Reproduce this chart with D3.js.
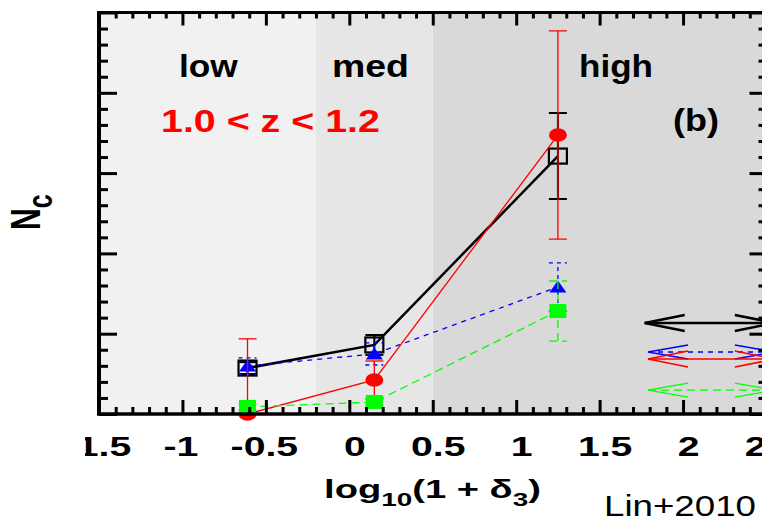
<!DOCTYPE html>
<html>
<head>
<meta charset="utf-8">
<script src="https://cdn.jsdelivr.net/npm/d3@7/dist/d3.min.js"></script>
<style>
  html, body { margin: 0; padding: 0; background: #fff; }
  svg { display: block; }
</style>
</head>
<body>
<svg id="chart" width="762" height="521"></svg>
<script>
// ---- data ----
const densityBins   = ["low", "med", "high"];
const binEdges      = [-1.5, -0.2, 0.5, 2.5];          // log10(1+δ3) limits of each bin
const groupX        = [-0.61, 0.15, 1.25];             // bin centres
const allVals       = [0.0286, 0.0430, 0.1606];        // black open squares
const allErr        = [0.0037, 0.0062, 0.0268];
const blueVals      = [0.0299, 0.0374, 0.0791];        // blue triangles
const blueErr       = [0.0050, 0.0069, 0.0150];
const redVals       = [0.0000, 0.0212, 0.1737];        // red circles
const redErr        = [0.0468, 0.0118, 0.0648];
const greenVals     = [0.0044, 0.0075, 0.0641];        // green squares
const greenErr      = [0.0019, 0.0019, 0.0187];
const fieldLevels   = [0.0567, 0.0386, 0.0342, 0.0149]; // black, blue, red, green field values
const fieldStart    = [1.77, 1.79, 1.79, 1.79];
const fieldEnd      = 2.55;
const xMajorTicks   = d3.range(-15, 26, 5).map(d => d / 10);
const xMinorTicks   = d3.range(-15, 26).map(d => d / 10).filter(d => Math.abs(d * 2 - Math.round(d * 2)) > 1e-6);
const yMajorTicks   = d3.range(0, 26, 5).map(d => d / 100);
const yMinorTicks   = d3.range(0, 26).filter(d => d % 5 !== 0).map(d => d / 100);

// ---- layout ----
const svg = d3.select("#chart");
const FONT = "'Liberation Sans', Arial, Helvetica, sans-serif";
const L = 99, R = 766.5, T = 12.5, B = 414;
const x = d3.scaleLinear().domain([-1.5, 2.5]).range([L, R]);
const y = d3.scaleLinear().domain([0, 0.25]).range([B, T]);

// stretch a text element horizontally to a given width, keeping its anchor
function fitWidth(sel, w, anchor) {
  const bb = sel.node().getBBox();
  const s = w / bb.width;
  const ax = anchor === "middle" ? bb.x + bb.width / 2 : bb.x;
  sel.attr("transform", `translate(${ax},0) scale(${s},1) translate(${-ax},0)`);
}

svg.append("defs").append("clipPath").attr("id", "plotClip")
  .append("rect").attr("x", L).attr("y", T).attr("width", R - L).attr("height", B - T);
svg.select("defs").append("clipPath").attr("id", "labelClip")
  .append("rect").attr("x", 85).attr("y", 0).attr("width", 700).attr("height", 521);

// ---- density bands ----
const bandFill = ["#f1f1f1", "#e6e6e6", "#d9d9d9"];
svg.append("g").selectAll("rect").data(densityBins).join("rect")
  .attr("x", (d, i) => x(binEdges[i]))
  .attr("width", (d, i) => x(binEdges[i + 1]) - x(binEdges[i]))
  .attr("y", T).attr("height", B - T)
  .attr("fill", (d, i) => bandFill[i]);

// ---- series ----
const series = [
  { vals: allVals,   errs: allErr,   color: "#000000", lw: 2.5, dash: null,  ew: 2.0, edash: null,  marker: "openSquare" },
  { vals: blueVals,  errs: blueErr,  color: "#0000ff", lw: 1.3, dash: "5,5", ew: 1.3, edash: "4,4", marker: "triangle" },
  { vals: redVals,   errs: redErr,   color: "#ff0000", lw: 1.3, dash: null,  ew: 1.3, edash: null,  marker: "circle" },
  { vals: greenVals, errs: greenErr, color: "#00ff00", lw: 1.3, dash: "8,5", ew: 1.3, edash: "8,5", marker: "square" }
];

const line = d3.line().x((d, i) => x(groupX[i])).y(d => y(d));
const marks = svg.append("g");

series.forEach(s => {
  const g = marks.append("g");
  g.append("path").datum(s.vals)
    .attr("d", line).attr("fill", "none")
    .attr("stroke", s.color).attr("stroke-width", s.lw)
    .attr("stroke-dasharray", s.dash);

  const eg = g.append("g").attr("clip-path", "url(#plotClip)")
    .attr("stroke", s.color).attr("stroke-width", s.ew)
    .attr("stroke-dasharray", s.edash).attr("fill", "none");
  s.vals.forEach((v, i) => {
    const cx = x(groupX[i]), lo = y(v - s.errs[i]), hi = y(v + s.errs[i]);
    eg.append("line").attr("x1", cx).attr("x2", cx).attr("y1", lo).attr("y2", hi);
    eg.append("line").attr("x1", cx - 9).attr("x2", cx + 9).attr("y1", lo).attr("y2", lo);
    eg.append("line").attr("x1", cx - 9).attr("x2", cx + 9).attr("y1", hi).attr("y2", hi);
  });

  const mg = g.append("g");
  s.vals.forEach((v, i) => {
    const cx = x(groupX[i]), cy = y(v);
    if (s.marker === "openSquare") {
      mg.append("rect").attr("x", cx - 9).attr("y", cy - 7.5).attr("width", 18).attr("height", 15)
        .attr("fill", "none").attr("stroke", s.color).attr("stroke-width", 2.2);
    } else if (s.marker === "triangle") {
      mg.append("path").attr("d", `M${cx},${cy - 6.5}L${cx + 8.5},${cy + 5.5}L${cx - 8.5},${cy + 5.5}Z`)
        .attr("fill", s.color);
    } else if (s.marker === "circle") {
      mg.append("ellipse").attr("cx", cx).attr("cy", cy).attr("rx", 9).attr("ry", 6.7).attr("fill", s.color);
    } else {
      mg.append("rect").attr("x", cx - 8.5).attr("y", cy - 7).attr("width", 17).attr("height", 14)
        .attr("fill", s.color);
    }
  });
});

// ---- field-average arrows ----
const arrowStyle = [
  { color: "#000000", lw: 2.5, dash: null,  head: 8 },
  { color: "#0000ff", lw: 1.3, dash: "5,5", head: 7 },
  { color: "#ff0000", lw: 1.6, dash: null,  head: 8 },
  { color: "#00ff00", lw: 1.3, dash: "8,5", head: 7 }
];
const arrows = svg.append("g").attr("fill", "none");
fieldLevels.forEach((lev, i) => {
  const st = arrowStyle[i];
  const x1 = x(fieldStart[i]), x2 = x(fieldEnd), yy = y(lev);
  arrows.append("line").attr("x1", x1).attr("x2", x2).attr("y1", yy).attr("y2", yy)
    .attr("stroke", st.color).attr("stroke-width", st.lw).attr("stroke-dasharray", st.dash);
  arrows.append("path").attr("d", `M${x1 + 40},${yy - st.head}L${x1},${yy}L${x1 + 40},${yy + st.head}`)
    .attr("stroke", st.color).attr("stroke-width", st.lw);
  arrows.append("path").attr("d", `M${x2 - 40},${yy - st.head}L${x2},${yy}L${x2 - 40},${yy + st.head}`)
    .attr("stroke", st.color).attr("stroke-width", st.lw);
});

// ---- axes (inward ticks on all four sides) ----
function tickAxis(axis, values, size, transform) {
  const g = svg.append("g").attr("transform", transform)
    .call(axis.tickValues(values).tickSize(size).tickFormat(""));
  g.select(".domain").remove();
  g.selectAll(".tick line").attr("stroke", "#000").attr("stroke-width", 3);
  return g;
}
tickAxis(d3.axisBottom(x), xMajorTicks, -14, `translate(0,${B})`);
tickAxis(d3.axisBottom(x), xMinorTicks, -7,  `translate(0,${B})`);
tickAxis(d3.axisTop(x),    xMajorTicks, -13, `translate(0,${T})`);
tickAxis(d3.axisTop(x),    xMinorTicks, -6,  `translate(0,${T})`);
tickAxis(d3.axisLeft(y),   yMajorTicks, -18, `translate(${L},0)`);
tickAxis(d3.axisLeft(y),   yMinorTicks, -9,  `translate(${L},0)`);
tickAxis(d3.axisRight(y),  yMajorTicks, -17, `translate(${R},0)`);
tickAxis(d3.axisRight(y),  yMinorTicks, -8,  `translate(${R},0)`);

// frame
const frame = svg.append("g").attr("stroke", "#000");
frame.append("line").attr("x1", L - 2).attr("x2", R + 2).attr("y1", T).attr("y2", T).attr("stroke-width", 3);
frame.append("line").attr("x1", L - 2).attr("x2", R + 2).attr("y1", B).attr("y2", B).attr("stroke-width", 3.5);
frame.append("line").attr("x1", L).attr("x2", L).attr("y1", T).attr("y2", B).attr("stroke-width", 4);
frame.append("line").attr("x1", R).attr("x2", R).attr("y1", T).attr("y2", B).attr("stroke-width", 4);

// x tick labels
const xl = svg.append("g").attr("clip-path", "url(#labelClip)")
  .append("g").attr("transform", `translate(0,${B})`)
  .call(d3.axisBottom(x).tickValues(xMajorTicks).tickSize(0).tickPadding(22).tickFormat(d => String(d)));
xl.select(".domain").remove();
xl.attr("font-family", FONT).attr("font-size", 28).attr("font-weight", "bold");
xl.selectAll(".tick text").attr("fill", "#000")
  .attr("transform", d => `translate(${d >= 0 ? 5 : -2},0) scale(1.4,1)`);

// ---- text ----
function label(txt, px, py, size, weight, color, width, anchor) {
  const t = svg.append("text").attr("x", px).attr("y", py)
    .attr("font-family", FONT).attr("font-size", size).attr("font-weight", weight)
    .attr("fill", color).attr("text-anchor", anchor || "start").text(txt);
  fitWidth(t, width, anchor);
  return t;
}
label("low",  179, 77, 32, "bold", "#000", 59);
label("med",  332, 77, 32, "bold", "#000", 77);
label("high", 579, 77, 32, "bold", "#000", 74);
label("1.0 < z < 1.2", 161, 132, 31, "bold", "#ff0000", 219);
label("(b)", 673, 131, 32, "bold", "#000", 46);
label("Lin+2010", 604, 516, 30, "normal", "#000", 152);

// x-axis title
const xt = svg.append("text").attr("x", 432.5).attr("y", 498).attr("text-anchor", "middle")
  .attr("font-family", FONT).attr("font-weight", "bold").attr("font-size", 26).attr("fill", "#000");
xt.append("tspan").text("log");
xt.append("tspan").attr("font-size", 19).attr("dy", 8).text("10");
xt.append("tspan").attr("dy", -8).text("(1 + δ");
xt.append("tspan").attr("font-size", 19).attr("dy", 8).text("3");
xt.append("tspan").attr("dy", -8).text(")");
fitWidth(xt, 217, "middle");

// y-axis title
const yt = svg.append("text")
  .attr("transform", "translate(40,230) scale(1.4,1) rotate(-90)")
  .attr("font-family", FONT).attr("font-weight", "bold").attr("font-size", 30).attr("fill", "#000");
yt.append("tspan").text("N");
yt.append("tspan").attr("font-size", 25).attr("dy", 8.6).text("c");
</script>
</body>
</html>
